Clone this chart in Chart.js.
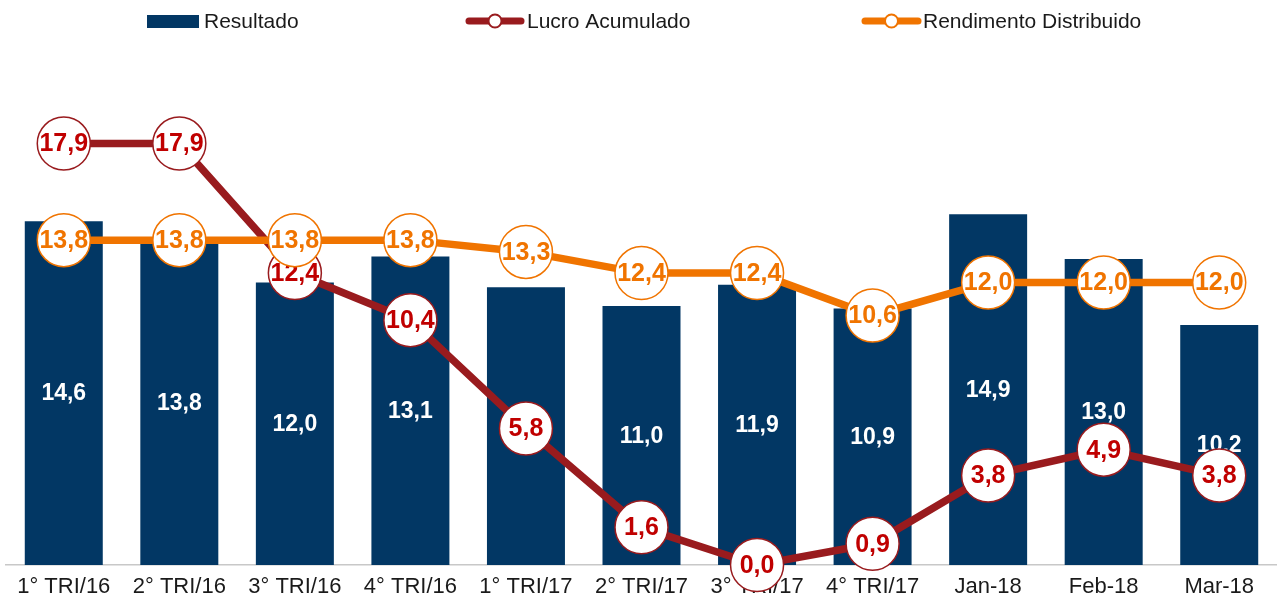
<!DOCTYPE html>
<html>
<head>
<meta charset="utf-8">
<title>Resultado x Lucro Acumulado x Rendimento</title>
<script src="https://cdn.jsdelivr.net/npm/chart.js@4.4.1/dist/chart.umd.min.js"></script>
<style>
  body { margin: 0; background: #fff; }
  canvas { display: block; }
</style>
</head>
<body>
<canvas id="myChart" width="1277" height="598"></canvas>
<script>
// data
var labels = ['1° TRI/16', '2° TRI/16', '3° TRI/16', '4° TRI/16', '1° TRI/17', '2° TRI/17',
              '3° TRI/17', '4° TRI/17', 'Jan-18', 'Feb-18', 'Mar-18'];
var resultado = [14.6, 13.8, 12.0, 13.1, 11.8, 11.0, 11.9, 10.9, 14.9, 13.0, 10.2];
var lucroAcumulado = [17.9, 17.9, 12.4, 10.4, 5.8, 1.6, 0.0, 0.9, 3.8, 4.9, 3.8];
var rendimento = [13.8, 13.8, 13.8, 13.8, 13.3, 12.4, 12.4, 10.6, 12.0, 12.0, 12.0];

var navy = '#023764';
var darkRed = '#991B1E';
var red = '#C00000';
var orange = '#F07400';
var fontName = "'Liberation Sans', Arial, Helvetica, sans-serif";

function fmt(v) {
    return v.toFixed(1).replace('.', ',');
}

// draws the value labels right after each dataset, so later datasets cover them
var valueLabels = {
    id: 'valueLabels',
    afterDatasetDraw: function(chart, args) {
        var ctx = chart.ctx;
        var meta = args.meta;
        var data = chart.data.datasets[args.index].data;
        ctx.save();
        ctx.textAlign = 'center';
        ctx.textBaseline = 'middle';
        meta.data.forEach(function(el, i) {
            if (meta.type === 'bar') {
                ctx.font = 'bold 23px ' + fontName;
                ctx.fillStyle = '#ffffff';
                ctx.fillText(fmt(data[i]), el.x, (el.y + el.base) / 2 + 1);
            } else {
                ctx.font = 'bold 25px ' + fontName;
                ctx.fillStyle = args.index === 1 ? red : orange;
                ctx.fillText(fmt(data[i]), el.x, el.y + 1);
            }
        });
        ctx.restore();
    }
};

// legend at the top, drawn by hand to get the line + circle markers
var topLegend = {
    id: 'topLegend',
    afterDraw: function(chart) {
        var ctx = chart.ctx;
        ctx.save();
        ctx.font = '21px ' + fontName;
        ctx.textBaseline = 'alphabetic';
        ctx.textAlign = 'left';

        ctx.fillStyle = navy;
        ctx.fillRect(147, 15, 52, 13);
        ctx.fillStyle = '#1a1a1a';
        ctx.fillText('Resultado', 204, 28);

        function lineMarker(x1, x2, color) {
            ctx.strokeStyle = color;
            ctx.lineWidth = 7;
            ctx.lineCap = 'round';
            ctx.beginPath();
            ctx.moveTo(x1 + 3, 21);
            ctx.lineTo(x2 - 3, 21);
            ctx.stroke();
            ctx.fillStyle = '#fff';
            ctx.lineWidth = 2;
            ctx.beginPath();
            ctx.arc((x1 + x2) / 2, 21, 6.5, 0, Math.PI * 2);
            ctx.fill();
            ctx.stroke();
        }
        lineMarker(466, 524, darkRed);
        ctx.fillStyle = '#1a1a1a';
        ctx.fillText('Lucro Acumulado', 527, 28);

        lineMarker(862, 921, orange);
        ctx.fillStyle = '#1a1a1a';
        ctx.fillText('Rendimento Distribuido', 923, 28);
        ctx.restore();
    }
};

var ctx = document.getElementById('myChart').getContext('2d');
var myChart = new Chart(ctx, {
    type: 'bar',
    data: {
        labels: labels,
        datasets: [{
            type: 'bar',
            label: 'Resultado',
            data: resultado,
            backgroundColor: navy,
            borderWidth: 0,
            categoryPercentage: 1,
            barPercentage: 0.675,
            order: 3
        }, {
            type: 'line',
            label: 'Lucro Acumulado',
            data: lucroAcumulado,
            borderColor: darkRed,
            borderWidth: 7.5,
            tension: 0,
            pointRadius: 26.5,
            pointBackgroundColor: '#ffffff',
            pointBorderColor: darkRed,
            pointBorderWidth: 1.5,
            clip: false,
            order: 2
        }, {
            type: 'line',
            label: 'Rendimento Distribuido',
            data: rendimento,
            borderColor: orange,
            borderWidth: 7.5,
            tension: 0,
            pointRadius: 26.5,
            pointBackgroundColor: '#ffffff',
            pointBorderColor: orange,
            pointBorderWidth: 1.5,
            clip: false,
            order: 1
        }]
    },
    options: {
        responsive: false,
        animation: false,
        layout: { autoPadding: false, padding: { left: 6, top: 0, right: 0, bottom: 0 } },
        plugins: {
            legend: { display: false },
            tooltip: { enabled: false }
        },
        scales: {
            x: {
                grid: { display: false, drawTicks: false },
                border: { display: true, color: '#c8c8c8', width: 1.5 },
                ticks: {
                    color: '#1a1a1a',
                    font: { family: fontName, size: 22 },
                    padding: 9,
                    maxRotation: 0,
                    autoSkip: false
                },
                afterFit: function(scale) {
                    scale.height = 33;
                    scale.paddingLeft = 0;
                    scale.paddingRight = 0;
                }
            },
            y: {
                display: false,
                min: 0,
                max: 24
            }
        }
    },
    plugins: [valueLabels, topLegend]
});
</script>
</body>
</html>
